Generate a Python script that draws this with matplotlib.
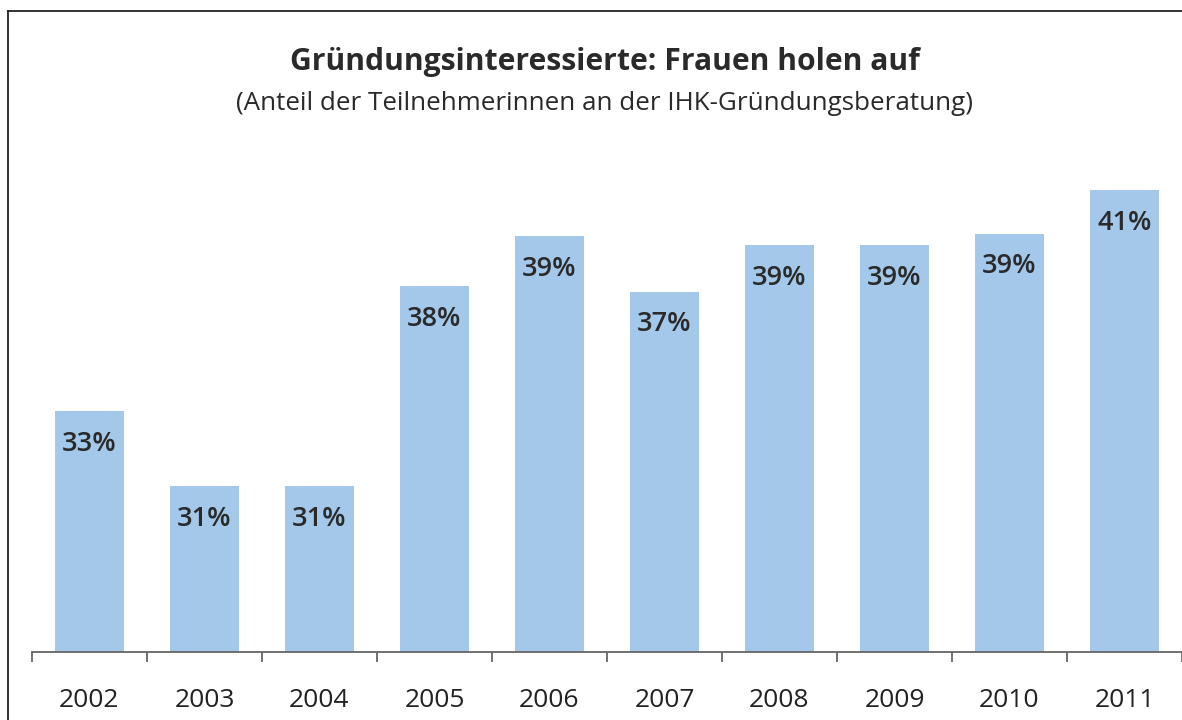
import matplotlib
matplotlib.use("Agg")
import matplotlib.pyplot as plt
from matplotlib.lines import Line2D

# data
years = ["2002", "2003", "2004", "2005", "2006", "2007", "2008", "2009", "2010", "2011"]
shares = [33.3, 30.7, 30.7, 37.6, 39.3, 37.4, 39.0, 39.0, 39.4, 40.9]
labels = ["33%", "31%", "31%", "38%", "39%", "37%", "39%", "39%", "39%", "41%"]

title = "Gründungsinteressierte: Frauen holen auf"
subtitle = "(Anteil der Teilnehmerinnen an der IHK-Gründungsberatung)"

W, H = 1182, 720
fig = plt.figure(figsize=(W / 100, H / 100), dpi=100)
plt.rcParams['font.family'] = ['Open Sans', 'DejaVu Sans']

# outer frame (left and top edge visible)
fig.add_artist(Line2D([8 / W, 8 / W], [0, 1 - 11 / H], transform=fig.transFigure,
                      color="#222222", lw=1.3))
fig.add_artist(Line2D([8 / W, 1], [1 - 11 / H, 1 - 11 / H], transform=fig.transFigure,
                      color="#222222", lw=1.3))

ax = fig.add_axes([32 / W, (H - 652) / H, 1 - 32 / W, (652 - 158) / H])
x = range(len(years))
bars = ax.bar(x, shares, width=0.6, color="#a3c8ea", bottom=0)
ax.set_ylim(25, 42)
ax.set_xlim(-0.5, len(years) - 0.5)

for i, (v, lab) in enumerate(zip(shares, labels)):
    ax.annotate(lab, (i, v), xytext=(0, -13.5), textcoords="offset points",
                ha="center", va="top", fontsize=19.5, fontweight="semibold", color="#2a2a2a")

for s in ["top", "right", "left"]:
    ax.spines[s].set_visible(False)
ax.spines["bottom"].set_color("#666666")
ax.spines["bottom"].set_linewidth(1.3)
ax.set_yticks([])

# ticks between categories, labels centered
ax.set_xticks([i - 0.5 for i in range(len(years) + 1)])
ax.set_xticklabels([])
ax.tick_params(axis="x", length=7, width=1.3, color="#666666", direction="out")
for i, y in enumerate(years):
    ax.text(i, -0.098, y, transform=ax.get_xaxis_transform(), ha="center", va="center",
            fontsize=19, color="#222222")

fig.text(605 / W, 1 - 62 / H, title, ha="center", va="center",
         fontsize=21.7, fontweight="bold", color="#2a2a2a")
fig.text(605 / W, 1 - 104 / H, subtitle, ha="center", va="center",
         fontsize=18.7, color="#2a2a2a")

fig.savefig("out.png", dpi=100)
